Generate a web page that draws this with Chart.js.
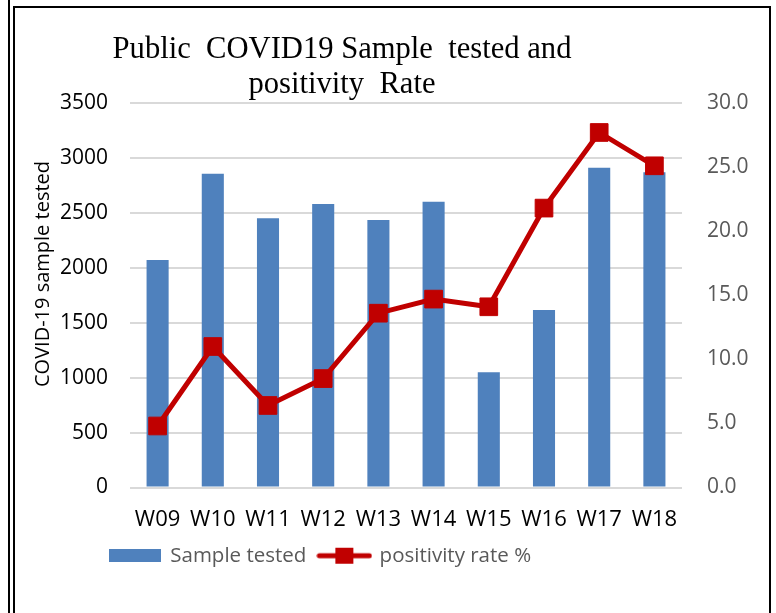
<!DOCTYPE html>
<html>
<head>
<meta charset="utf-8">
<script src="https://cdn.jsdelivr.net/npm/chart.js@4/dist/chart.umd.min.js"></script>
<style>
  html, body { margin: 0; padding: 0; background: #fff; }
  #wrap { position: relative; width: 776px; height: 613px; overflow: hidden; }
  #wrap canvas { position: absolute; left: 0; top: 0; }
  .ln { position: absolute; background: #000; }
</style>
</head>
<body>
<div id="wrap">
  <canvas id="covidChart" width="776" height="613"></canvas>
  <div class="ln" style="left:8px;top:0;width:2px;height:613px"></div>
  <div class="ln" style="left:13px;top:6px;width:2px;height:607px"></div>
  <div class="ln" style="left:13px;top:6px;width:758px;height:2px"></div>
  <div class="ln" style="left:769px;top:6px;width:2px;height:607px"></div>
</div>
<script>
// semaines
const weeks = ["W09", "W10", "W11", "W12", "W13", "W14", "W15", "W16", "W17", "W18"]

// COVID-19 sample tested (axe gauche)
const samplesTested = [2070, 2855, 2450, 2580, 2435, 2600, 1050, 1615, 2910, 2870]

// positivity rate % (axe droit)
const positivityRate = [4.8, 11.0, 6.4, 8.5, 13.6, 14.7, 14.1, 21.8, 27.7, 25.1]

const titleLines = ["Public  COVID19 Sample  tested and", "positivity  Rate"]
const yTitle = "COVID-19 sample tested"
const seriesNames = ["Sample tested", "positivity rate %"]

const BLUE = "#4F81BD"
const RED = "#C00000"
const GRID = "#D9D9D9"
const SANS = "'Open Sans', 'Noto Sans', sans-serif"

// petites images pour la légende
function barSwatch() {
  const c = document.createElement("canvas")
  c.width = 52; c.height = 13
  const g = c.getContext("2d")
  g.fillStyle = BLUE
  g.fillRect(0, 0, 52, 13)
  return c
}

function lineSwatch() {
  const c = document.createElement("canvas")
  c.width = 56; c.height = 20
  const g = c.getContext("2d")
  g.strokeStyle = RED
  g.lineWidth = 5
  g.lineCap = "round"
  g.beginPath(); g.moveTo(3, 10); g.lineTo(53, 10); g.stroke()
  g.fillStyle = RED
  g.fillRect(19, 2, 18, 16)
  return c
}

// titre + titre d'axe dessinés à la main (position comme dans Excel)
const textPlugin = {
  id: "textPlugin",
  afterLayout(chart) {
    // légende alignée à gauche comme l'original
    chart.legend.left = 97
  },
  afterDraw(chart) {
    const ctx = chart.ctx
    ctx.save()
    ctx.fillStyle = "#000"
    ctx.textAlign = "center"
    ctx.textBaseline = "alphabetic"
    ctx.font = "30.6px 'Liberation Serif', 'Times New Roman', serif"
    ctx.fillText(titleLines[0], 342, 58)
    ctx.fillText(titleLines[1], 342, 93)

    ctx.translate(43, 274)
    ctx.rotate(-Math.PI / 2)
    ctx.textBaseline = "middle"
    ctx.font = "20px " + SANS
    ctx.fillText(yTitle, 0, 0)
    ctx.restore()
  }
}

const ctx = document.getElementById("covidChart")

new Chart(ctx, {
  data: {
    labels: weeks,
    datasets: [
      {
        type: "bar",
        label: seriesNames[0],
        data: samplesTested,
        yAxisID: "y",
        backgroundColor: BLUE,
        barPercentage: 0.4,
        categoryPercentage: 1,
        order: 1
      },
      {
        type: "line",
        label: seriesNames[1],
        data: positivityRate,
        yAxisID: "y1",
        borderColor: RED,
        borderWidth: 5,
        pointStyle: "rect",
        pointRadius: 12.5,
        pointBackgroundColor: RED,
        pointBorderColor: RED,
        pointBorderWidth: 1,
        tension: 0,
        order: 0
      }
    ]
  },
  options: {
    responsive: false,
    animation: false,
    layout: {
      padding: { left: 22, right: 10, top: 103, bottom: 37 }
    },
    plugins: {
      title: { display: false },
      tooltip: { enabled: false },
      legend: {
        position: "bottom",
        align: "start",
        labels: {
          usePointStyle: true,
          pointStyleWidth: 50,
          padding: 13,
          color: "#595959",
          font: { family: SANS, size: 20.5 },
          generateLabels: () => [
            { text: seriesNames[0], pointStyle: barSwatch(), fontColor: "#595959", lineWidth: 0, strokeStyle: "rgba(0,0,0,0)", fillStyle: "rgba(0,0,0,0)", datasetIndex: 0 },
            { text: seriesNames[1], pointStyle: lineSwatch(), fontColor: "#595959", lineWidth: 0, strokeStyle: "rgba(0,0,0,0)", fillStyle: "rgba(0,0,0,0)", datasetIndex: 1 }
          ]
        }
      }
    },
    scales: {
      x: {
        grid: { display: false, drawTicks: false },
        border: { display: false },
        ticks: {
          color: "#000",
          padding: 19,
          font: { family: SANS, size: 22 }
        },
        afterFit: s => { s.height = 45 }
      },
      y: {
        position: "left",
        min: 0,
        max: 3500,
        grid: { color: GRID, lineWidth: 2, drawTicks: false },
        border: { display: false },
        ticks: {
          stepSize: 500,
          color: "#000",
          padding: 22,
          font: { family: SANS, size: 21 },
          callback: v => String(v)
        },
        afterFit: s => { s.width = 108 }
      },
      y1: {
        position: "right",
        min: 0,
        max: 30,
        grid: { drawOnChartArea: false, drawTicks: false },
        border: { display: false },
        ticks: {
          stepSize: 5,
          color: "#595959",
          padding: 25,
          font: { family: SANS, size: 21 },
          callback: v => v.toFixed(1)
        },
        afterFit: s => { s.width = 84 }
      }
    }
  },
  plugins: [textPlugin]
})
</script>
</body>
</html>
